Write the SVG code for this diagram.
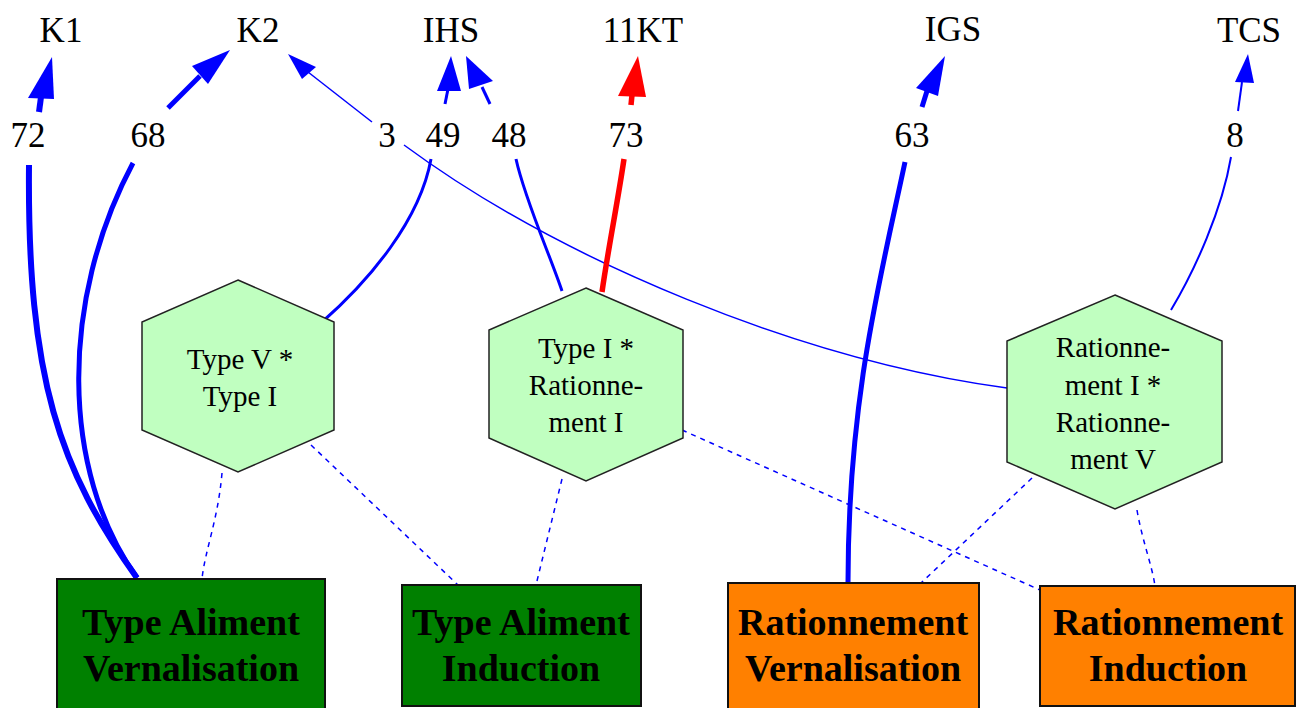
<svg xmlns="http://www.w3.org/2000/svg" width="1301" height="708" viewBox="0 0 1301 708">
<style>
text{font-family:"Liberation Serif","Times New Roman",serif;fill:#000;text-anchor:middle}
.lbl{font-size:35px}
.hx{font-size:29px}
.bx{font-size:38px;font-weight:bold}
.hex{fill:#C0FFC0;stroke:#222;stroke-width:1.5}
.e{fill:none;stroke:#0000FF}
.r{fill:none;stroke:#FF0000}
.d{fill:none;stroke:#0000FF;stroke-width:1.5;stroke-dasharray:5,5}
.ah{fill:#0000FF}
.ahr{fill:#FF0000}
</style>
<rect width="1301" height="708" fill="#fff"/>
<g id="connectors">
<path class="e" stroke-width="6" d="M137,578 C60,470 27,380 29,165"/>
<path class="e" stroke-width="6" d="M39,112 L41,97"/>
<polygon class="ah" points="52,57 28,98 54,99"/>
<path class="e" stroke-width="5" d="M137,578 C60,470 60,300 133,163"/>
<path class="e" stroke-width="5" d="M168,108 L200,76"/>
<polygon class="ah" points="230,50 192,66 208,84"/>
<path class="e" stroke-width="1.5" d="M1007,388 C800,360 560,260 404,145"/>
<path class="e" stroke-width="1.5" d="M372,122 L308,72"/>
<polygon class="ah" points="288,54 302,79 316,67"/>
<path class="e" stroke-width="3" d="M321,323 C370,280 420,220 431,159"/>
<path class="e" stroke-width="3" d="M445,104 L448,89"/>
<polygon class="ah" points="451,56 437,91 461,91"/>
<path class="e" stroke-width="3" d="M562,291 C550,255 525,200 516,159"/>
<path class="e" stroke-width="3" d="M490,104 L482,87"/>
<polygon class="ah" points="466,56 469,89 493,81"/>
<path class="r" stroke-width="5.5" d="M602,292 C608,250 618,200 624,159"/>
<path class="r" stroke-width="5.5" d="M631,105 L632,95"/>
<polygon class="ahr" points="638,56 618,96 646,97"/>
<path class="e" stroke-width="5" d="M848,583 C848,400 880,280 905,162"/>
<path class="e" stroke-width="5" d="M922,107 L927,91"/>
<polygon class="ah" points="945,56 916,88 938,96"/>
<path class="e" stroke-width="2" d="M1171,310 C1195,270 1222,210 1231,157"/>
<path class="e" stroke-width="2" d="M1238,111 L1242,82"/>
<polygon class="ah" points="1248,54 1235,82 1254,83"/>
<path class="d" d="M222,473 C218,520 205,550 202,579"/>
<path class="d" d="M311,445 L458,585"/>
<path class="d" d="M562,479 L536,585"/>
<path class="d" d="M682,430 L1040,590"/>
<path class="d" d="M1032,478 L921,583"/>
<path class="d" d="M1137,510 C1142,540 1152,565 1155,586"/>
</g>
<g id="edge-labels">
<text class="lbl" x="28" y="147">72</text>
<text class="lbl" x="148" y="147">68</text>
<text class="lbl" x="387" y="147">3</text>
<text class="lbl" x="443" y="147">49</text>
<text class="lbl" x="509" y="147">48</text>
<text class="lbl" x="626" y="147">73</text>
<text class="lbl" x="912" y="147">63</text>
<text class="lbl" x="1235" y="147">8</text>
</g>
<g id="K1"><text class="lbl" x="61" y="42">K1</text></g>
<g id="K2"><text class="lbl" x="258" y="42">K2</text></g>
<g id="IHS"><text class="lbl" x="451" y="42">IHS</text></g>
<g id="11KT"><text class="lbl" x="643" y="42">11KT</text></g>
<g id="IGS"><text class="lbl" x="953" y="41">IGS</text></g>
<g id="TCS"><text class="lbl" x="1249" y="42">TCS</text></g>
<g id="hex-typeV-typeI">
<polygon class="hex" points="238,280 334,322 334,430 238,472 142,430 142,322"/>
<text class="hx" x="240" y="369">Type V *</text>
<text class="hx" x="240" y="406">Type I</text>
</g>
<g id="hex-typeI-rationI">
<polygon class="hex" points="586,288 683,330 683,438 586,481 489,438 489,330"/>
<text class="hx" x="586" y="358">Type I *</text>
<text class="hx" x="586" y="395">Rationne-</text>
<text class="hx" x="586" y="432">ment I</text>
</g>
<g id="hex-rationI-rationV">
<polygon class="hex" points="1115,295 1222,341 1222,462 1115,509 1007,462 1007,341"/>
<text class="hx" x="1113" y="357">Rationne-</text>
<text class="hx" x="1113" y="395">ment I *</text>
<text class="hx" x="1113" y="432">Rationne-</text>
<text class="hx" x="1113" y="469">ment V</text>
</g>
<g id="box-type-vern">
<rect x="57" y="579" width="268" height="140" fill="#008000" stroke="#111" stroke-width="2"/>
<text class="bx" x="191" y="635">Type Aliment</text>
<text class="bx" x="191" y="681">Vernalisation</text>
</g>
<g id="box-type-ind">
<rect x="402" y="585" width="239" height="121" fill="#008000" stroke="#111" stroke-width="2"/>
<text class="bx" x="521" y="635">Type Aliment</text>
<text class="bx" x="521" y="681">Induction</text>
</g>
<g id="box-ration-vern">
<rect x="728" y="583" width="251" height="136" fill="#FF8000" stroke="#111" stroke-width="2"/>
<text class="bx" x="853" y="635">Rationnement</text>
<text class="bx" x="853" y="681">Vernalisation</text>
</g>
<g id="box-ration-ind">
<rect x="1040" y="586" width="255" height="120" fill="#FF8000" stroke="#111" stroke-width="2"/>
<text class="bx" x="1168" y="635">Rationnement</text>
<text class="bx" x="1168" y="681">Induction</text>
</g>
</svg>
